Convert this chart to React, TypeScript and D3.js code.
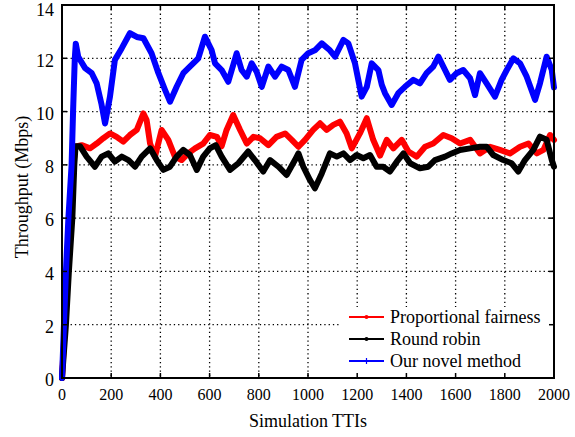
import * as d3 from "d3";

const xTicks = [0, 200, 400, 600, 800, 1000, 1200, 1400, 1600, 1800, 2000];
const yTicks = [0, 2, 4, 6, 8, 10, 12, 14];

const seriesNames = ["Proportional fairness", "Round robin", "Our novel method"];
const seriesColors = ["#ff0000", "#000000", "#0000ff"];

// [TTI, Mbps]
const pfData: [number, number][] = [
  [0, 0], [12, 2], [24, 4], [38, 6], [47, 8], [53, 8.68], [80, 8.74], [114, 8.62], [141, 8.8],
  [168, 9.0], [195, 9.18], [222, 9.05], [249, 8.87], [276, 9.12], [304, 9.31], [331, 9.93],
  [344, 9.68], [358, 8.8], [378, 8.31], [405, 9.31], [432, 8.94], [459, 8.31], [486, 8.18],
  [513, 8.43], [541, 8.62], [574, 8.8], [601, 9.12], [630, 9.05], [649, 8.7], [669, 9.31],
  [696, 9.87], [724, 9.31], [751, 8.8], [778, 9.05], [805, 9.0], [839, 8.74], [872, 9.05],
  [907, 9.18], [934, 8.94], [961, 8.68], [988, 8.94], [1021, 9.31], [1049, 9.56], [1076, 9.31],
  [1103, 9.5], [1130, 9.62], [1157, 9.18], [1178, 8.62], [1211, 9.18], [1239, 9.75], [1265, 8.94],
  [1293, 8.35], [1320, 8.94], [1347, 8.62], [1381, 8.94], [1408, 8.5], [1442, 8.31], [1476, 8.68],
  [1509, 8.8], [1550, 9.12], [1584, 9.0], [1618, 8.8], [1659, 8.94], [1699, 8.43], [1740, 8.68],
  [1780, 8.56], [1821, 8.43], [1862, 8.68], [1896, 8.8], [1930, 8.43], [1957, 8.56], [1984, 9.12],
  [2000, 8.94],
];

const rrData: [number, number][] = [
  [0, 0], [16, 2], [28, 4], [42, 6], [50, 8], [55, 8.7], [73, 8.7], [100, 8.31], [134, 7.93],
  [161, 8.31], [188, 8.43], [215, 8.12], [243, 8.31], [270, 8.18], [297, 7.93], [324, 8.31],
  [358, 8.62], [385, 8.18], [412, 7.81], [439, 7.93], [466, 8.31], [493, 8.56], [520, 8.37],
  [548, 7.81], [574, 8.31], [601, 8.62], [625, 8.74], [649, 8.31], [683, 7.81], [717, 8.06],
  [757, 8.5], [784, 8.18], [818, 7.75], [846, 8.18], [880, 7.93], [913, 7.62], [947, 8.18],
  [961, 8.43], [981, 7.93], [1008, 7.43], [1028, 7.12], [1056, 7.68], [1089, 8.43], [1117, 8.31],
  [1144, 8.43], [1171, 8.18], [1198, 8.37], [1225, 8.25], [1252, 8.37], [1279, 7.93], [1306, 7.93],
  [1333, 7.75], [1361, 8.12], [1388, 8.43], [1415, 8.06], [1455, 7.87], [1489, 7.93], [1516, 8.18],
  [1557, 8.31], [1584, 8.43], [1618, 8.56], [1659, 8.62], [1699, 8.68], [1726, 8.68], [1753, 8.37],
  [1794, 8.18], [1828, 8.06], [1855, 7.75], [1882, 8.18], [1916, 8.56], [1943, 9.06], [1970, 8.94],
  [1991, 8.18], [2000, 7.93],
];

const novelData: [number, number][] = [
  [0, 0], [16, 4], [26, 6], [39, 8], [45, 10], [52, 12], [56, 12.55], [66, 12.06], [94, 11.63],
  [121, 11.44], [141, 11.06], [160, 10.3], [175, 9.55], [195, 10.56], [215, 11.94], [243, 12.38],
  [276, 12.94], [304, 12.8], [331, 12.75], [364, 12.19], [392, 11.44], [419, 10.81], [439, 10.37],
  [466, 10.93], [493, 11.44], [527, 11.75], [554, 12.0], [581, 12.81], [608, 12.31], [622, 11.81],
  [649, 11.56], [676, 11.12], [710, 12.19], [730, 11.56], [751, 11.31], [771, 11.81], [791, 11.5],
  [812, 10.93], [839, 11.69], [866, 11.31], [893, 11.69], [920, 11.56], [947, 10.93], [974, 11.94],
  [1001, 12.19], [1028, 12.3], [1056, 12.56], [1089, 12.3], [1110, 12.06], [1144, 12.69], [1164, 12.56],
  [1191, 11.81], [1218, 10.56], [1239, 10.93], [1259, 11.81], [1286, 11.56], [1300, 11.0], [1313, 10.69],
  [1340, 10.25], [1367, 10.69], [1394, 10.93], [1428, 11.19], [1455, 11.06], [1482, 11.44], [1509, 11.69],
  [1530, 12.06], [1557, 11.56], [1577, 11.19], [1604, 11.44], [1631, 11.56], [1659, 11.25], [1679, 10.62],
  [1699, 11.44], [1726, 11.06], [1760, 10.56], [1787, 11.19], [1808, 11.56], [1835, 12.0], [1862, 11.81],
  [1889, 11.31], [1923, 10.44], [1943, 11.06], [1970, 12.06], [1991, 11.56], [2000, 10.9],
];

const allSeries = [pfData, rrData, novelData];

export default function App() {
  const width = 575;
  const height = 437;
  const left = 62;
  const right = 554;
  const top = 5;
  const bottom = 378;
  const font = "Liberation Serif, DejaVu Serif, Times New Roman, serif";

  const x = d3.scaleLinear().domain([0, 2000]).range([left, right]);
  const y = d3.scaleLinear().domain([0, 14]).range([bottom, top]);

  const line = d3
    .line<[number, number]>()
    .x((d) => x(d[0]))
    .y((d) => y(d[1]));

  // legend box
  const lgX = 339;
  const lgY = 307;
  const rowY = [317, 339, 361];
  const txt = { fontFamily: font, fill: "#000" };

  return (
    <svg
      width={width}
      height={height}
      style={{ position: "absolute", left: 0, top: 0, background: "#fff", fontFamily: font }}
    >
      <rect x={0} y={0} width={width} height={height} fill="#fff" />

      {/* grid */}
      {xTicks.slice(1, -1).map((t) => (
        <line key={"gx" + t} x1={x(t)} x2={x(t)} y1={top} y2={bottom}
          stroke="#000" strokeWidth={1.3} strokeDasharray="1.3,3" />
      ))}
      {yTicks.slice(1, -1).map((t) => (
        <line key={"gy" + t} x1={left} x2={right} y1={y(t)} y2={y(t)}
          stroke="#000" strokeWidth={1.3} strokeDasharray="1.3,3" />
      ))}

      {/* series */}
      {allSeries.map((s, i) => (
        <path key={"s" + i} d={line(s) ?? ""} fill="none" stroke={seriesColors[i]}
          strokeWidth={6} strokeLinejoin="round" strokeLinecap="round" />
      ))}

      {/* legend */}
      <rect x={lgX} y={lgY} width={right - lgX} height={bottom - lgY} fill="#fff" />
      {seriesNames.map((name, i) => (
        <g key={name}>
          <line x1={349} x2={384} y1={rowY[i]} y2={rowY[i]} stroke={seriesColors[i]} strokeWidth={2} />
          {i < 2 ? (
            <circle cx={366.5} cy={rowY[i]} r={2} fill={seriesColors[i]} />
          ) : (
            <path d={`M${363.5},${rowY[i]}h6M${366.5},${rowY[i] - 3}v6`} stroke={seriesColors[i]} strokeWidth={1.2} />
          )}
          <text x={390} y={rowY[i]} dy="0.35em" fontSize={18} style={txt}>{name}</text>
        </g>
      ))}

      {/* frame */}
      <rect x={left} y={top} width={right - left} height={bottom - top} fill="none" stroke="#000" strokeWidth={2} />

      {/* ticks */}
      {xTicks.map((t) => (
        <g key={"tx" + t}>
          <line x1={x(t)} x2={x(t)} y1={bottom} y2={bottom - 5} stroke="#000" strokeWidth={1.5} />
          <line x1={x(t)} x2={x(t)} y1={top} y2={top + 5} stroke="#000" strokeWidth={1.5} />
          <text x={x(t)} y={400} textAnchor="middle" fontSize={16} style={txt}>{t}</text>
        </g>
      ))}
      {yTicks.map((t) => (
        <g key={"ty" + t}>
          <line x1={left} x2={left + 5} y1={y(t)} y2={y(t)} stroke="#000" strokeWidth={1.5} />
          <line x1={right} x2={right - 5} y1={y(t)} y2={y(t)} stroke="#000" strokeWidth={1.5} />
          <text x={54} y={Math.max(y(t) + 2, 10)} dy="0.35em" textAnchor="end" fontSize={18} style={txt}>{t}</text>
        </g>
      ))}

      {/* axis titles */}
      <text x={308} y={427} textAnchor="middle" fontSize={18} style={txt}>Simulation TTIs</text>
      <text transform={`translate(28, 187) rotate(-90)`} textAnchor="middle"
        fontSize={18} style={txt}>Throughput (Mbps)</text>
    </svg>
  );
}
